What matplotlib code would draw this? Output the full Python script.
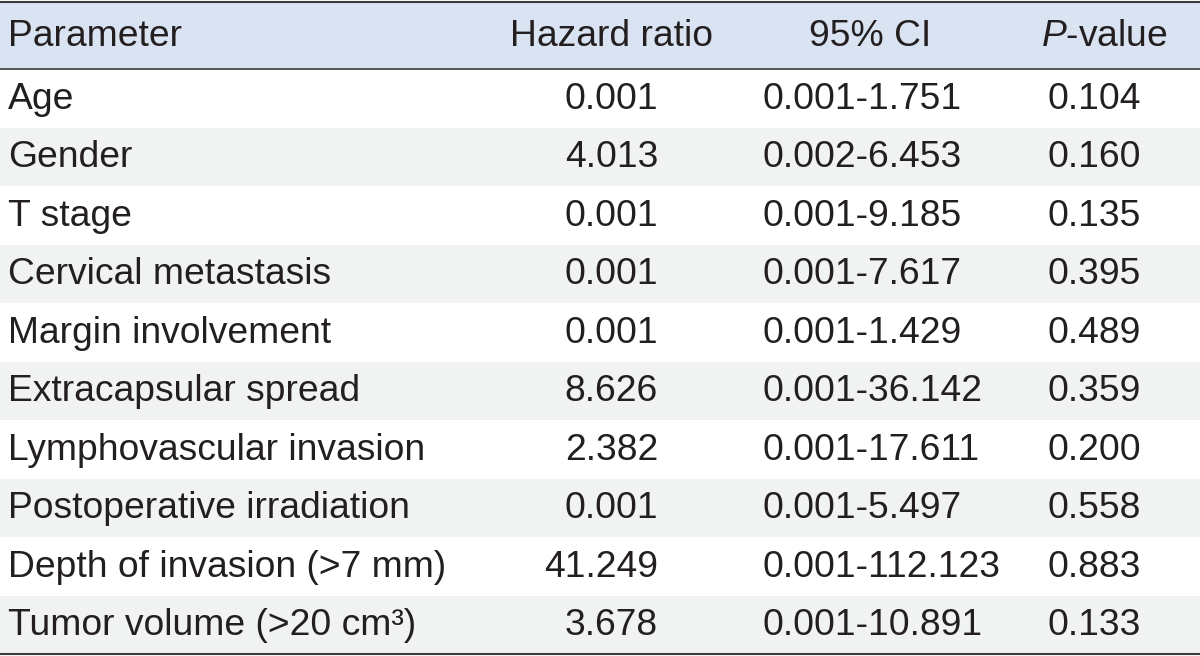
import matplotlib
matplotlib.use("Agg")
import matplotlib.pyplot as plt

plt.rcParams['font.family'] = ['Liberation Sans', 'DejaVu Sans']
plt.rcParams['mathtext.fontset'] = 'custom'
plt.rcParams['mathtext.rm'] = 'Liberation Sans'
plt.rcParams['mathtext.it'] = 'Liberation Sans:italic'

####################################################################
parameters = ["Age", "Gender", "T stage", "Cervical metastasis",
              "Margin involvement", "Extracapsular spread",
              "Lymphovascular invasion", "Postoperative irradiation",
              "Depth of invasion (>7 mm)", "Tumor volume (>20 cm³)"]
hazard_ratio = ["0.001", "4.013", "0.001", "0.001", "0.001",
                "8.626", "2.382", "0.001", "41.249", "3.678"]
ci95 = ["0.001-1.751", "0.002-6.453", "0.001-9.185", "0.001-7.617",
        "0.001-1.429", "0.001-36.142", "0.001-17.611", "0.001-5.497",
        "0.001-112.123", "0.001-10.891"]
p_values = ["0.104", "0.160", "0.135", "0.395", "0.489",
            "0.359", "0.200", "0.558", "0.883", "0.133"]
headers = ["Parameter", "Hazard ratio", "95% CI", r"$\mathit{P}$-value"]

####################################################################
fontsize = 26.8
text_color = '#231F20'
header_bg = '#D9E3F1'
stripe_bg = '#F1F2F2'

W, H = 1200, 656
fig = plt.figure(figsize=(W / 100, H / 100), dpi=100)
ax = fig.add_axes([0, 0, 1, 1])
ax.set_xlim(0, W)
ax.set_ylim(H, 0)
ax.axis('off')

top = 1.5
header_bottom = 69
row_h = (654 - header_bottom) / len(parameters)

# header
ax.axhspan(top, header_bottom, color=header_bg, lw=0)
hy = (top + header_bottom) / 2 + 1
ax.text(8, hy, headers[0], ha='left', va='center', fontsize=fontsize, color=text_color)
ax.text(611, hy, headers[1], ha='center', va='center', fontsize=fontsize, color=text_color)
ax.text(870, hy, headers[2], ha='center', va='center', fontsize=fontsize, color=text_color)
ax.text(1104, hy, headers[3], ha='center', va='center', fontsize=fontsize, color=text_color)

# rows
for i in range(len(parameters)):
    y0 = header_bottom + i * row_h
    if i % 2 == 1:
        ax.axhspan(y0, y0 + row_h, color=stripe_bg, lw=0)
    yc = y0 + row_h / 2 + 1
    ax.text(8, yc, parameters[i], ha='left', va='center', fontsize=fontsize, color=text_color)
    ax.text(658, yc, hazard_ratio[i], ha='right', va='center', fontsize=fontsize, color=text_color)
    ax.text(762, yc, ci95[i], ha='left', va='center', fontsize=fontsize, color=text_color)
    ax.text(1094, yc, p_values[i], ha='center', va='center', fontsize=fontsize, color=text_color)

# rules
ax.axhline(top, color='#3a3a3a', lw=1.5)
ax.axhline(header_bottom, color='#3a3a3a', lw=1.2)
ax.axhline(654, color='#3a3a3a', lw=1.5)

fig.savefig("out.png", dpi=100)
